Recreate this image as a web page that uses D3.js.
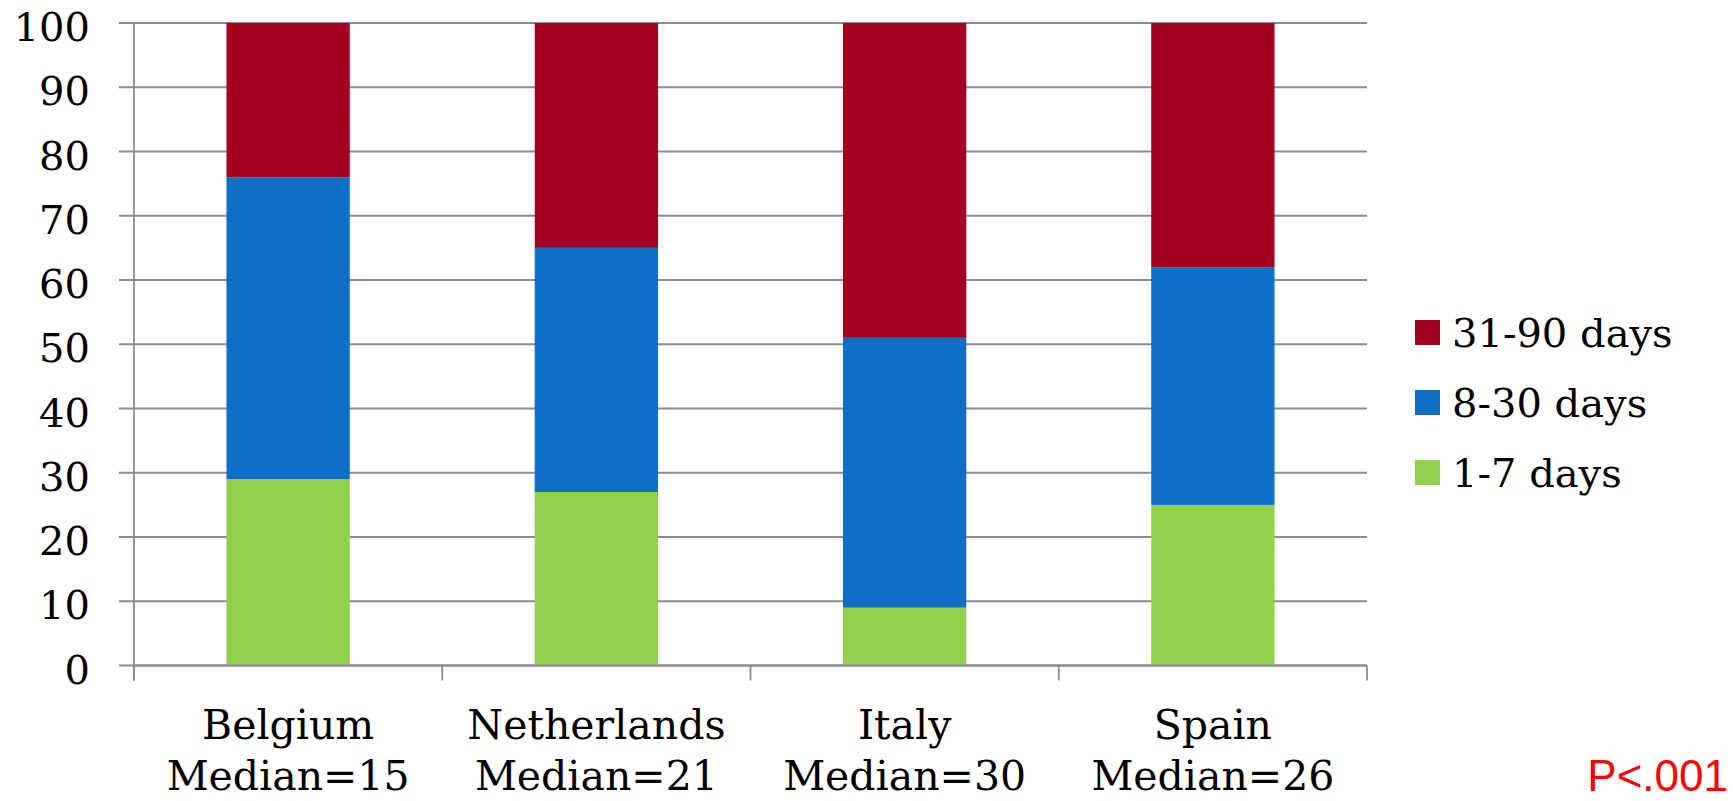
<!DOCTYPE html>
<html>
<head>
<meta charset="utf-8">
<script src="https://cdn.jsdelivr.net/npm/d3@7"></script>
<style>
  html, body { margin: 0; padding: 0; background: #ffffff; }
  svg { display: block; }
</style>
</head>
<body>
<svg id="chart" width="1733" height="801"></svg>
<script>
// Chart data
const categories = ["Belgium", "Netherlands", "Italy", "Spain"];
const medians = [15, 21, 30, 26];
const days1to7 = [29, 27, 9, 25];
const days8to30 = [47, 38, 42, 37];
const days31to90 = [24, 35, 49, 38];
const seriesKeys = ["1-7 days", "8-30 days", "31-90 days"];
const seriesColors = ["#92D050", "#0F6FC6", "#A50021"];
const yTicks = [0, 10, 20, 30, 40, 50, 60, 70, 80, 90, 100];
const pValueLabel = "P<.001";

const rows = categories.map((c, i) => ({
  country: c,
  "1-7 days": days1to7[i],
  "8-30 days": days8to30[i],
  "31-90 days": days31to90[i]
}));

const svg = d3.select("#chart");
const serif = "'DejaVu Serif', Georgia, serif";
const gridColor = "#8c8c8c";

const plotLeft = 134, plotRight = 1367, plotTop = 23, plotBottom = 665.5;
const tickLen = 15;

const x = d3.scaleBand()
  .domain(categories)
  .range([plotLeft, plotRight])
  .paddingInner(0.6)
  .paddingOuter(0.3);

const y = d3.scaleLinear().domain([0, 100]).range([plotBottom, plotTop]);

const color = d3.scaleOrdinal().domain(seriesKeys).range(seriesColors);

// Horizontal gridlines (with short ticks left of the axis)
svg.append("g")
  .selectAll("line")
  .data(yTicks)
  .join("line")
  .attr("x1", plotLeft - tickLen)
  .attr("x2", plotRight)
  .attr("y1", d => y(d))
  .attr("y2", d => y(d))
  .attr("stroke", gridColor)
  .attr("stroke-width", 1.8);

// Y tick labels
svg.append("g")
  .selectAll("text")
  .data(yTicks)
  .join("text")
  .attr("x", 90)
  .attr("y", d => y(d) + 18)
  .attr("text-anchor", "end")
  .attr("font-family", serif)
  .attr("font-size", 40)
  .attr("fill", "#000")
  .text(d => d);

// Stacked bars
const stacked = d3.stack().keys(seriesKeys)(rows);
svg.append("g")
  .selectAll("g")
  .data(stacked)
  .join("g")
  .attr("fill", d => color(d.key))
  .selectAll("rect")
  .data(d => d)
  .join("rect")
  .attr("x", d => x(d.data.country))
  .attr("width", x.bandwidth())
  .attr("y", d => y(d[1]))
  .attr("height", d => y(d[0]) - y(d[1]));

// Axes lines
const axisG = svg.append("g").attr("stroke", gridColor).attr("stroke-width", 1.8);
axisG.append("line")
  .attr("x1", plotLeft).attr("x2", plotLeft)
  .attr("y1", plotTop).attr("y2", plotBottom + tickLen);
axisG.append("line")
  .attr("x1", plotLeft).attr("x2", plotRight)
  .attr("y1", plotBottom).attr("y2", plotBottom);

// Category boundary ticks
const boundaries = d3.range(categories.length + 1).map(i => plotLeft + i * (plotRight - plotLeft) / categories.length);
axisG.selectAll("line.xtick")
  .data(boundaries)
  .join("line")
  .attr("class", "xtick")
  .attr("x1", d => d).attr("x2", d => d)
  .attr("y1", plotBottom).attr("y2", plotBottom + tickLen);

// Category labels (two lines)
const xl = svg.append("g")
  .selectAll("text")
  .data(categories)
  .join("text")
  .attr("text-anchor", "middle")
  .attr("font-family", serif)
  .attr("font-size", 41)
  .attr("fill", "#000");
xl.append("tspan")
  .attr("x", d => x(d) + x.bandwidth() / 2)
  .attr("y", 739)
  .text(d => d);
xl.append("tspan")
  .attr("x", d => x(d) + x.bandwidth() / 2)
  .attr("y", 790)
  .text((d, i) => "Median=" + medians[i]);

// Legend (top series first)
const legendKeys = seriesKeys.slice().reverse();
const legend = svg.append("g")
  .selectAll("g")
  .data(legendKeys)
  .join("g")
  .attr("transform", (d, i) => `translate(1415, ${320 + i * 70})`);
legend.append("rect")
  .attr("width", 25)
  .attr("height", 25)
  .attr("fill", d => color(d));
legend.append("text")
  .attr("x", 37)
  .attr("y", 27)
  .attr("font-family", serif)
  .attr("font-size", 40)
  .attr("fill", "#000")
  .text(d => d);

// Significance note
svg.append("text")
  .attr("x", 1728)
  .attr("y", 791)
  .attr("text-anchor", "end")
  .attr("font-family", "'Liberation Sans', Arial, sans-serif")
  .attr("font-size", 44)
  .attr("fill", "#FF0000")
  .text(pValueLabel);
</script>
</body>
</html>
